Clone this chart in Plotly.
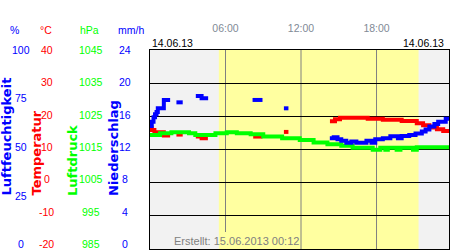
import plotly.graph_objects as go

# ---------------- data ----------------
hour_ticks = [6, 12, 18]
hour_labels = ["06:00", "12:00", "18:00"]
date_label = "14.06.13"
created_label = "Erstellt: 15.06.2013 00:12"
day_start, day_end = 5.47, 21.34          # daylight (hours)
x_end = 23.76

# relative humidity (%), None = no data
hum_t = [0.0, 0.14, 0.28, 0.4, 0.52, 0.62, 1.1, 1.6, None,
         2.1, 2.6, None,
         3.64, 4.1, 4.62, None,
         8.15, 8.94, None,
         10.64, 11.0, None,
         14.29, 14.6, 14.9, 15.2, 15.6, 16.0, 16.4, 17.2, 17.6, 17.9, 18.5,
         19.1, 19.7, 20.0, 20.6, 21.1, 21.6, 21.9, 22.2, 22.6, 22.9, 23.5, 23.76]
hum_v = [61.8, 64.0, 66.2, 67.7, 68.8, 70.7, 74.9, 74.9, None,
         73.7, 73.7, None,
         76.9, 75.7, 75.7, None,
         74.9, 74.9, None,
         70.7, 70.7, None,
         55.6, 56.2, 55.1, 54.4, 53.4, 54.0, 53.4, 54.4, 53.4, 55.1, 55.6,
         56.6, 55.6, 56.8, 57.3, 58.1, 59.0, 60.1, 61.5, 62.8, 64.0, 65.5, 65.5]

# temperature (°C)
temp_t = [0.0, 0.12, 0.35, 1.1, 1.6, None,
          2.1, 2.6, None,
          3.64, 4.1, 4.6, None,
          8.2, 8.94, None,
          10.64, 11.0, None,
          14.3, 14.7, 15.1, 17.3, 18.5, 20.0, 21.2, 21.7, 22.2, 22.8, 23.3, 23.76]
temp_v = [16.6, 15.9, 15.2, 14.2, 14.2, None,
          14.5, 14.5, None,
          13.9, 13.4, 13.4, None,
          13.9, 13.9, None,
          15.3, 15.3, None,
          18.5, 19.1, 19.6, 19.3, 19.0, 18.6, 17.9, 17.3, 16.6, 16.1, 15.6, 15.6]

# air pressure (hPa)
pres_t = [0.0, 0.8, 1.7, 3.1, 3.6, 5.2, 6.1, 6.9, 8.0, 9.0, 10.5, 11.9, 13.0,
          14.1, 15.2, 16.1, 17.7, 18.3, 18.7, 18.9, 19.6, 19.9, 20.9, 21.2, 23.76]
pres_v = [1019.4, 1019.9, 1020.2, 1019.9, 1019.4, 1019.9, 1020.2, 1019.9, 1019.6,
          1018.9, 1018.4, 1017.9, 1017.1, 1016.6, 1016.1, 1015.5, 1014.9, 1015.5,
          1014.9, 1015.5, 1014.9, 1015.5, 1014.9, 1015.7, 1015.7]

# axis tick labels
pct_ticks = [0, 25, 50, 75, 100]
temp_ticks = [-20, -10, 0, 10, 20, 30, 40]
hpa_ticks = [985, 995, 1005, 1015, 1025, 1035, 1045]
mm_ticks = [0, 4, 8, 12, 16, 20, 24]

# ---------------- styling ----------------
W, H = 450, 250
BLUE, RED, GREEN = "#0000ff", "#ff0000", "#00ff00"
SANS = "Liberation Sans, Arial, sans-serif"
BOLD = "DejaVu Sans, Verdana, sans-serif"
plot_x0, plot_x1 = 150 / W, 449 / W
plot_y0, plot_y1 = 1 - 249 / H, 1 - 50 / H
lab_y0 = 1 - 244 / H

fig = go.Figure()
fig.add_trace(go.Scatter(x=temp_t, y=temp_v, mode="lines", yaxis="y",
                         line=dict(color=RED, width=4, shape="hv"),
                         connectgaps=False, hoverinfo="skip"))
fig.add_trace(go.Scatter(x=pres_t, y=pres_v, mode="lines", yaxis="y2",
                         line=dict(color=GREEN, width=4, shape="hv"),
                         connectgaps=False, hoverinfo="skip"))
fig.add_trace(go.Scatter(x=hum_t, y=hum_v, mode="lines", yaxis="y3",
                         line=dict(color=BLUE, width=4, shape="hv"),
                         connectgaps=False, hoverinfo="skip"))
# carriers for the label scales (left columns)
for ya in ["y4", "y5", "y6", "y7"]:
    fig.add_trace(go.Scatter(x=[None], y=[None], xaxis="x2", yaxis=ya,
                             mode="markers", hoverinfo="skip"))

hidden = dict(showgrid=False, showline=False, zeroline=False,
              showticklabels=False, ticks="", fixedrange=True)

fig.update_layout(
    width=W, height=H, margin=dict(l=0, r=0, t=0, b=0),
    paper_bgcolor="white", plot_bgcolor="rgba(0,0,0,0)", showlegend=False,
    xaxis=dict(domain=[plot_x0, plot_x1], range=[0, x_end], side="top",
               tickmode="array", tickvals=hour_ticks, ticktext=hour_labels,
               tickfont=dict(family=SANS, size=10.5, color="#7f8a96"),
               ticks="", ticklabelstandoff=13, showgrid=False, zeroline=False,
               showline=True, mirror=True, linecolor="black", linewidth=1,
               fixedrange=True),
    yaxis=dict(domain=[plot_y0, plot_y1], range=[-20, 40], dtick=10, tick0=0,
               showgrid=True, gridcolor="black", gridwidth=1,
               showticklabels=False, ticks="", zeroline=False,
               showline=True, mirror=True, linecolor="black", linewidth=1,
               fixedrange=True),
    yaxis2=dict(overlaying="y", range=[985, 1045], visible=False),
    yaxis3=dict(overlaying="y", range=[0, 100], visible=False),
    xaxis2=dict(domain=[0, 0.32], range=[0, 1], anchor="y4", **hidden),
    yaxis4=dict(domain=[lab_y0, plot_y1], range=[0, 100], anchor="x2", **hidden),
    yaxis5=dict(overlaying="y4", range=[-20, 40], **hidden),
    yaxis6=dict(overlaying="y4", range=[985, 1045], **hidden),
    yaxis7=dict(overlaying="y4", range=[0, 24], **hidden),
)

shapes = [
    dict(type="rect", xref="x", yref="y domain", x0=0, x1=x_end, y0=0, y1=1,
         fillcolor="#f2f2f2", line=dict(width=0), layer="below"),
    dict(type="rect", xref="x", yref="y domain", x0=day_start, x1=day_end,
         y0=0, y1=1, fillcolor="#ffffa0", line=dict(width=0), layer="below"),
]
for hv in hour_ticks:
    y0 = (249 - 232) / 199 if hv == hour_ticks[0] else 0
    shapes.append(dict(type="line", xref="x", yref="y domain", x0=hv, x1=hv,
                       y0=y0, y1=1, line=dict(color="#808080", width=1),
                       layer="below"))
fig.update_layout(shapes=shapes)

ann = []
# tick label columns
columns = [
    ("%", BLUE, 14, 20.5, "y4", pct_ticks),
    ("°C", RED, 46, 46.5, "y5", temp_ticks),
    ("hPa", GREEN, 89, 91, "y6", hpa_ticks),
    ("mm/h", BLUE, 131, 124.5, "y7", mm_ticks),
]
for head, col, hx, tx, yref, ticks in columns:
    ann.append(dict(text=head, xref="paper", yref="paper", x=hx / W, y=1 - 30 / H,
                    xanchor="center", yanchor="middle", showarrow=False,
                    font=dict(family=SANS, size=10.5, color=col)))
    for v in ticks:
        ann.append(dict(text=str(v), xref="paper", yref=yref, x=tx / W, y=v,
                        xanchor="center", yanchor="middle", showarrow=False,
                        font=dict(family=SANS, size=10.5, color=col)))

# rotated axis titles
titles = [("Luftfeuchtigkeit", BLUE, 5.5), ("Temperatur", RED, 36),
          ("Luftdruck", GREEN, 72.5), ("Niederschlag", BLUE, 113)]
for txt, col, tx in titles:
    ann.append(dict(text="<b>" + txt + "</b>", xref="paper", yref="paper",
                    x=tx / W, y=1 - 198 / H, xanchor="center", yanchor="bottom",
                    textangle=-90, showarrow=False,
                    font=dict(family=BOLD, size=13, color=col)))

# dates and footer
ann.append(dict(text=date_label, xref="paper", yref="paper", x=plot_x0, y=1 - 43 / H,
                xanchor="left", yanchor="middle", showarrow=False,
                font=dict(family=SANS, size=10.5, color="black")))
ann.append(dict(text=date_label, xref="paper", yref="paper", x=446 / W, y=1 - 43 / H,
                xanchor="right", yanchor="middle", showarrow=False,
                font=dict(family=SANS, size=10.5, color="black")))
ann.append(dict(text=created_label, xref="paper", yref="paper", x=236 / W,
                y=1 - 241 / H, xanchor="center", yanchor="middle", showarrow=False,
                font=dict(family=SANS, size=11, color="#808080")))
fig.update_layout(annotations=ann)

fig.write_html("out.html")
